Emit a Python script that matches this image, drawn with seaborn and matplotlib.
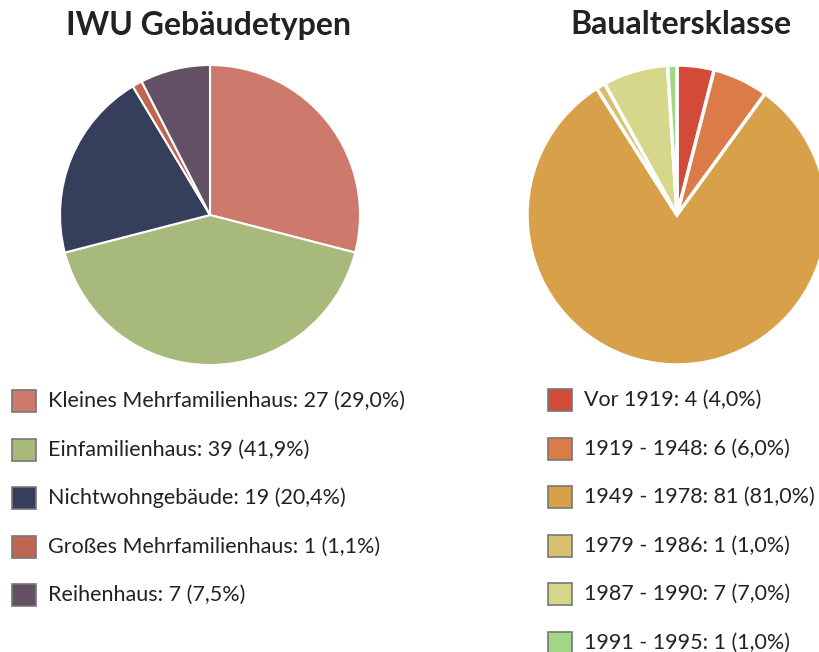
import matplotlib
matplotlib.use("Agg")
import matplotlib.pyplot as plt
import seaborn as sns
from matplotlib.patches import Rectangle

# Daten
typ_labels = ["Kleines Mehrfamilienhaus", "Einfamilienhaus", "Nichtwohngebäude",
              "Großes Mehrfamilienhaus", "Reihenhaus"]
typ_werte = [27, 39, 19, 1, 7]
typ_farben = ["#CD7A6C", "#A7BA7C", "#353F5C", "#C0654F", "#645064"]

alter_labels = ["Vor 1919", "1919 - 1948", "1949 - 1978", "1979 - 1986",
                "1987 - 1990", "1991 - 1995"]
alter_werte = [4, 6, 81, 1, 7, 1]
alter_farben = ["#D44A38", "#DA7B48", "#D8A048", "#D8C070", "#D7D78C", "#A0D888"]

sns.set_theme(style="white")
plt.rcParams['font.family'] = ['Lato', 'DejaVu Sans']

W, H = 819, 652
fig = plt.figure(figsize=(W / 100, H / 100), dpi=100)


def fmt(x):
    return f"{x:.1f}".replace(".", ",")


def pie_block(cx, cy, r, werte, farben, labels, titel, tx, lx, ly0, lw):
    ax = fig.add_axes([(cx - r) / W, (H - cy - r) / H, 2 * r / W, 2 * r / H])
    wedges, _ = ax.pie(werte, colors=farben, startangle=90, counterclock=False,
                       wedgeprops=dict(edgecolor="white", linewidth=lw))
    for w in wedges:
        w.set_clip_on(False)
    ax.set_xlim(-1, 1)
    ax.set_ylim(-1, 1)
    ax.set_aspect("equal")
    ax.axis("off")
    fig.text(tx / W, 1 - 25 / H, titel, ha="center", va="center",
             fontsize=23, fontweight="bold", color="#222222")
    total = sum(werte)
    for i, (lab, v, c) in enumerate(zip(labels, werte, farben)):
        y = ly0 + i * 48.5
        fig.patches.append(Rectangle((lx / W, 1 - (y + 11) / H), 24 / W, 22 / H,
                                     transform=fig.transFigure, facecolor=c,
                                     edgecolor="#777777", linewidth=1.2))
        fig.text((lx + 36) / W, 1 - y / H,
                 f"{lab}: {v} ({fmt(v / total * 100)}%)",
                 ha="left", va="center", fontsize=15.5, color="#222222")


pie_block(210, 215, 150, typ_werte, typ_farben, typ_labels,
          "IWU Gebäudetypen", 209, 12, 401, 1.5)
pie_block(677, 215, 150, alter_werte, alter_farben, alter_labels,
          "Baualtersklasse", 681, 548, 400, 2.5)

fig.savefig("out.png", dpi=100)
